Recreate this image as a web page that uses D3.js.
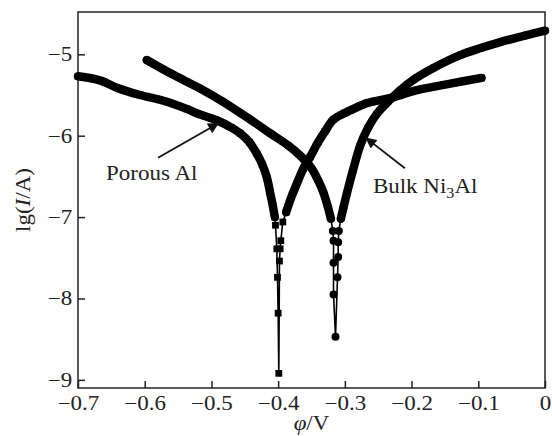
<!DOCTYPE html>
<html>
<head>
<meta charset="utf-8">
<script src="https://cdn.jsdelivr.net/npm/d3@7"></script>
<style>
  body { margin: 0; background: #fff; }
  text { font-family: "Liberation Serif", "Times New Roman", serif; fill: #222; }
</style>
</head>
<body>
<div id="chart"></div>
<script>
// tick values
let xTicks = [-0.7, -0.6, -0.5, -0.4, -0.3, -0.2, -0.1, 0]
let yTicks = [-9, -8, -7, -6, -5]

// Porous Al: potential (V), lg(I/A) - cathodic branch down to the tip, then anodic branch
let porousAl = [
  [-0.700, -5.27], [-0.667, -5.32], [-0.642, -5.41], [-0.607, -5.50], [-0.572, -5.57],
  [-0.537, -5.67], [-0.517, -5.74], [-0.492, -5.81], [-0.470, -5.90], [-0.457, -5.97],
  [-0.443, -6.08], [-0.432, -6.22], [-0.424, -6.35], [-0.417, -6.51], [-0.412, -6.70],
  [-0.408, -6.86], [-0.405, -7.00], [-0.404, -7.10], [-0.402, -7.39], [-0.401, -7.74],
  [-0.400, -8.18], [-0.399, -8.92],
  [-0.398, -7.54], [-0.397, -7.39], [-0.396, -7.29], [-0.393, -7.06], [-0.388, -6.94],
  [-0.380, -6.75], [-0.372, -6.59], [-0.362, -6.40], [-0.352, -6.26], [-0.340, -6.08],
  [-0.330, -5.95], [-0.317, -5.80], [-0.300, -5.72], [-0.292, -5.69], [-0.267, -5.60],
  [-0.228, -5.53], [-0.192, -5.44], [-0.142, -5.36], [-0.095, -5.29]
]

// Bulk Ni3Al
let bulkNi3Al = [
  [-0.597, -5.07], [-0.560, -5.24], [-0.517, -5.42], [-0.483, -5.58], [-0.442, -5.80],
  [-0.412, -5.97], [-0.385, -6.12], [-0.365, -6.26], [-0.350, -6.40], [-0.340, -6.55],
  [-0.332, -6.70], [-0.326, -6.86], [-0.321, -7.02],
  [-0.318, -7.17], [-0.317, -7.29], [-0.317, -7.56], [-0.317, -7.95], [-0.314, -8.47],
  [-0.311, -7.74], [-0.310, -7.49], [-0.310, -7.31], [-0.309, -7.17], [-0.306, -7.02],
  [-0.302, -6.88], [-0.297, -6.71], [-0.288, -6.43], [-0.277, -6.12], [-0.265, -5.90],
  [-0.252, -5.73], [-0.235, -5.58], [-0.217, -5.44], [-0.195, -5.30], [-0.168, -5.17],
  [-0.127, -5.01], [-0.095, -4.92], [-0.067, -4.85], [-0.030, -4.77], [0.000, -4.71]
]

// annotations: label, text anchor point, arrow tail, arrow head (data units)
let porousNote = { text: [-0.658, -6.55], from: [-0.580, -6.27], to: [-0.490, -5.85] }
let bulkNote = { text: [-0.258, -6.70], from: [-0.210, -6.40], to: [-0.268, -6.03] }

let width = 552, height = 436
let margin = { top: 12, right: 7, bottom: 48, left: 78 }

let svg = d3.select("#chart").append("svg")
  .attr("width", width)
  .attr("height", height)

svg.append("rect").attr("width", width).attr("height", height).attr("fill", "#fff")

let xScale = d3.scaleLinear()
  .domain([-0.7, 0])
  .range([margin.left, width - margin.right])

let yScale = d3.scaleLinear()
  .domain([-9.1, -4.48])
  .range([height - margin.bottom, margin.top])

// frame
svg.append("rect")
  .attr("x", margin.left)
  .attr("y", margin.top)
  .attr("width", width - margin.right - margin.left)
  .attr("height", height - margin.bottom - margin.top)
  .attr("fill", "none")
  .attr("stroke", "#222")
  .attr("stroke-width", 1.5)

let fmt = d => d === 0 ? "0" : d3.format(".1f")(d)

let gX = svg.append("g")
  .attr("transform", "translate(0," + (height - margin.bottom) + ")")
  .call(d3.axisBottom(xScale).tickValues(xTicks).tickFormat(fmt).tickSize(-7).tickSizeOuter(0).tickPadding(8))

let gY = svg.append("g")
  .attr("transform", "translate(" + margin.left + ",0)")
  .call(d3.axisLeft(yScale).tickValues(yTicks).tickFormat(d => d3.format("d")(d)).tickSize(-7).tickSizeOuter(0).tickPadding(5))

svg.selectAll(".domain").remove()
svg.selectAll(".tick line").attr("stroke", "#222").attr("stroke-width", 1.5)
svg.selectAll(".tick text")
  .attr("font-family", "Liberation Serif, Times New Roman, serif")
  .attr("font-size", 20)
  .attr("fill", "#222")
  .attr("transform", "scale(1.15,1)")

// curves
let bandCut = -7.05
let line = d3.line().x(d => xScale(d[0])).y(d => yScale(d[1]))
let band = d3.line().x(d => xScale(d[0])).y(d => yScale(d[1]))
  .defined(d => d[1] > bandCut)
  .curve(d3.curveCatmullRom)

let drawSeries = (data, shape) => {
  let g = svg.append("g")
  g.append("path")
    .attr("d", line(data))
    .attr("fill", "none")
    .attr("stroke", "#000")
    .attr("stroke-width", 1.6)
  g.append("path")
    .attr("d", band(data))
    .attr("fill", "none")
    .attr("stroke", "#000")
    .attr("stroke-width", 8.5)
    .attr("stroke-linecap", "round")
    .attr("stroke-linejoin", "round")
  g.selectAll("path.pt")
    .data(data)
    .enter()
    .append("path")
    .attr("class", "pt")
    .attr("transform", d => "translate(" + xScale(d[0]) + "," + yScale(d[1]) + ")")
    .attr("d", d3.symbol().type(shape).size(shape === d3.symbolSquare ? 46 : 50))
    .attr("fill", "#000")
}

drawSeries(porousAl, d3.symbolSquare)
drawSeries(bulkNi3Al, d3.symbolCircle)

// arrows
svg.append("defs").append("marker")
  .attr("id", "head")
  .attr("viewBox", "0 0 10 10")
  .attr("refX", 9)
  .attr("refY", 5)
  .attr("markerWidth", 14)
  .attr("markerHeight", 11)
  .attr("markerUnits", "userSpaceOnUse")
  .attr("orient", "auto")
  .append("path")
  .attr("d", "M0,0 L10,5 L0,10 z")
  .attr("fill", "#111")

let drawArrow = note => {
  svg.append("line")
    .attr("x1", xScale(note.from[0])).attr("y1", yScale(note.from[1]))
    .attr("x2", xScale(note.to[0])).attr("y2", yScale(note.to[1]))
    .attr("stroke", "#111")
    .attr("stroke-width", 1.8)
    .attr("marker-end", "url(#head)")
}
drawArrow(porousNote)
drawArrow(bulkNote)

svg.append("text")
  .attr("transform", "translate(" + xScale(porousNote.text[0]) + "," + yScale(porousNote.text[1]) + ") scale(1.15,1)")
  .attr("font-size", 20)
  .text("Porous Al")

let bulkText = svg.append("text")
  .attr("transform", "translate(" + xScale(bulkNote.text[0]) + "," + yScale(bulkNote.text[1]) + ") scale(1.15,1)")
  .attr("font-size", 20)
bulkText.append("tspan").text("Bulk Ni")
bulkText.append("tspan").attr("font-size", 14).attr("dy", 5).text("3")
bulkText.append("tspan").attr("dy", -5).text("Al")

// axis titles
let xTitle = svg.append("text")
  .attr("transform", "translate(" + ((margin.left + width - margin.right) / 2) + ",430) scale(1.15,1)")
  .attr("text-anchor", "middle")
  .attr("font-size", 20)
xTitle.append("tspan").attr("font-style", "italic").text("φ")
xTitle.append("tspan").text("/V")

let yTitle = svg.append("text")
  .attr("transform", "translate(30," + ((margin.top + height - margin.bottom) / 2) + ") rotate(-90) scale(1.15,1)")
  .attr("text-anchor", "middle")
  .attr("font-size", 20)
yTitle.append("tspan").text("lg(")
yTitle.append("tspan").attr("font-style", "italic").text("I")
yTitle.append("tspan").text("/A)")
</script>
</body>
</html>
